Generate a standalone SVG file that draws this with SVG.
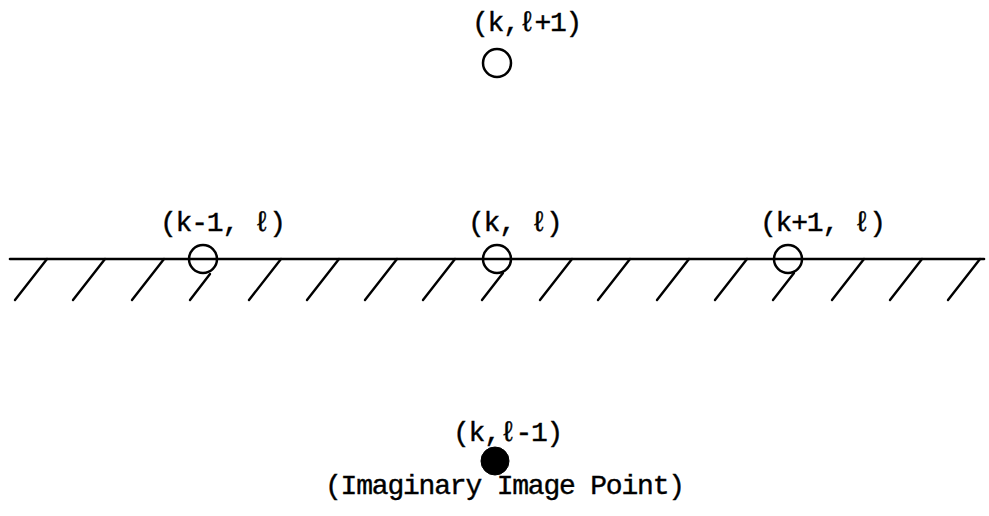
<svg xmlns="http://www.w3.org/2000/svg" width="989" height="516" viewBox="0 0 989 516">
  <style>
    .lbl { font-family: "Liberation Mono", "Courier New", monospace; font-size: 28px; letter-spacing: -1.2px; fill: #000; stroke: #000; stroke-width: 0.4; }
    .pt { fill: none; stroke: #000; stroke-width: 2.5; }
    .img { fill: #000; stroke: #000; stroke-width: 1; }
    .gnd { stroke: #000; stroke-width: 2.6; stroke-linecap: round; fill: none; }
    .hatch { stroke: #000; stroke-width: 2.4; stroke-linecap: round; fill: none; }
  </style>
  <rect width="989" height="516" fill="#fff"/>
  <g id="connectors">
    <line class="gnd" x1="10" y1="259" x2="984" y2="259"/>
    <g id="hatching">
      <line class="hatch" x1="15" y1="300" x2="47" y2="259"/>
      <line class="hatch" x1="73" y1="300" x2="105" y2="259"/>
      <line class="hatch" x1="132" y1="300" x2="164" y2="259"/>
      <line class="hatch" x1="190" y1="300" x2="210" y2="274"/>
      <line class="hatch" x1="249" y1="300" x2="281" y2="259"/>
      <line class="hatch" x1="307" y1="300" x2="339" y2="259"/>
      <line class="hatch" x1="365" y1="300" x2="397" y2="259"/>
      <line class="hatch" x1="423" y1="300" x2="455" y2="259"/>
      <line class="hatch" x1="482" y1="300" x2="503" y2="273"/>
      <line class="hatch" x1="540" y1="300" x2="572" y2="259"/>
      <line class="hatch" x1="598" y1="300" x2="630" y2="259"/>
      <line class="hatch" x1="657" y1="300" x2="689" y2="259"/>
      <line class="hatch" x1="715" y1="300" x2="747" y2="259"/>
      <line class="hatch" x1="773" y1="300" x2="794" y2="273"/>
      <line class="hatch" x1="832" y1="300" x2="864" y2="259"/>
      <line class="hatch" x1="890" y1="300" x2="922" y2="259"/>
      <line class="hatch" x1="948" y1="300" x2="980" y2="259"/>
    </g>
  </g>
  <g id="node-k-lplus1">
    <text class="lbl" x="472" y="31">(k,ℓ+1)</text>
    <circle class="pt" cx="497" cy="63" r="14"/>
  </g>
  <g id="node-kminus1-l">
    <text class="lbl" x="160" y="231">(k-1, ℓ)</text>
    <circle class="pt" cx="203" cy="259" r="14"/>
  </g>
  <g id="node-k-l">
    <text class="lbl" x="468" y="231">(k, ℓ)</text>
    <circle class="pt" cx="497" cy="259" r="14"/>
  </g>
  <g id="node-kplus1-l">
    <text class="lbl" x="760" y="231">(k+1, ℓ)</text>
    <circle class="pt" cx="788" cy="259" r="14"/>
  </g>
  <g id="node-k-lminus1">
    <text class="lbl" x="453" y="441">(k,ℓ-1)</text>
    <circle class="img" cx="495" cy="461" r="14"/>
    <text class="lbl" x="325" y="494">(Imaginary Image Point)</text>
  </g>
</svg>
